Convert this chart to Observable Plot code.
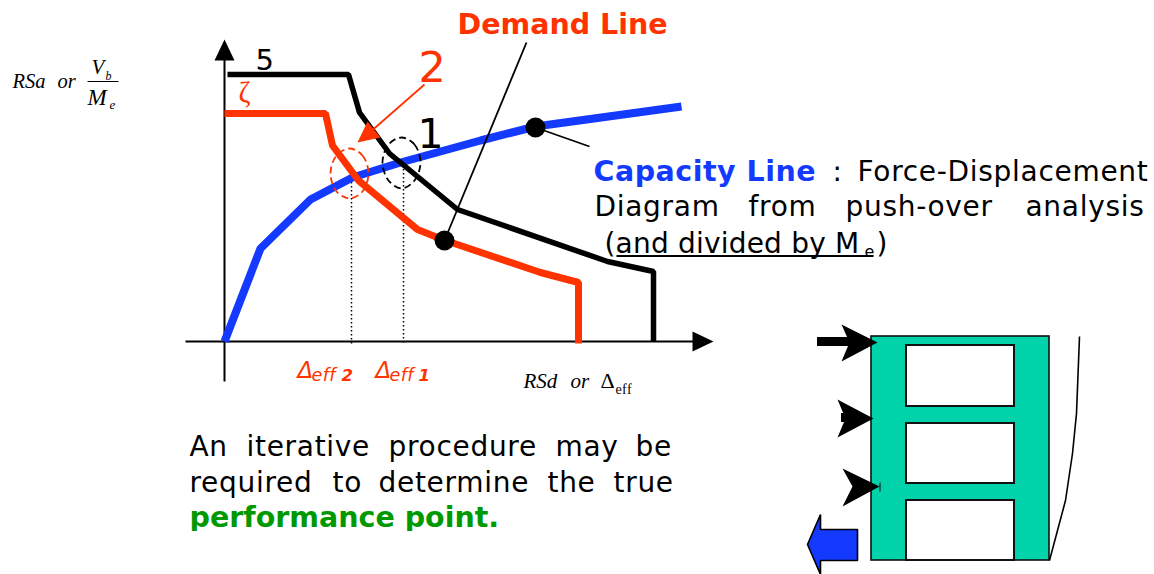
<!DOCTYPE html>
<html><head><meta charset="utf-8">
<style>html,body{margin:0;padding:0;background:#fff}svg{display:block}</style>
<script src="https://cdn.jsdelivr.net/npm/d3@7"></script>
<script src="https://cdn.jsdelivr.net/npm/@observablehq/plot@0.6"></script>
</head><body><script>
// Curves (displacement, acceleration), in reference pixel units
const capacityLine = [[224,341],[260,248],[310,199],[352,177],[400,162],[480,140],[535,126],[681,106]];
const demandLine5 = [[227,74],[348,74],[359,112],[389,153],[457,209],[607,261],[653,271],[653,341]];
const demandLine2 = [[224,113],[325,113],[332,145],[358,180],[417,229],[442,239],[540,272],[578,282],[578,343]];
const performanceDots = [[535,127],[444,240]];
const leaders = [[[526,42],[444,240]],[[535,127],[589,146]],[[424,84],[368,133]]];
const dottedDrops = [[351,170,346],[403,165,343]];
const ellipseRed = [[349,148],[362,155],[368,173],[362,191],[349,198],[336,191],[330,173],[336,155]];
const ellipseBlack = [[401,137],[414,144],[420,162],[414,180],[401,188],[388,180],[382,162],[388,144]];
const axesLines = [[[224,57],[224,381]],[[185,341],[696,341]]];
const triangles = [
  {c:"#000",p:[[224,39],[214,60],[234,60]]},
  {c:"#000",p:[[713,341],[692,331],[692,351]]},
  {c:"#ff3300",p:[[357,142],[367,121],[380,137]]},
  {c:"#000",p:[[877,342],[841,324],[849,342],[841,361]]},
  {c:"#000",p:[[873,418],[837,399],[845,418],[837,437]]},
  {c:"#000",p:[[879,486],[842,468],[852,486],[842,506]]}
];
const arrowShafts = [[817,337,850,346],[841,413,850,422]];
const forceTick = [[[879.5,482],[879.5,491]]];
const blueArrow = [[857,529],[820,529],[820,514],[807,544],[820,574],[820,560],[857,560]];
const frame = [871,336,1049,560];
const openings = [[906,345,1014,406],[906,423,1014,483],[906,500,1014,560]];
const deflected = [[1079,336],[1076,413],[1072,453],[1065,500],[1049,560]];
const fractionBar = [[[87,81],[118,81]]];
const underline = [[[616,255.5],[873,255.5]]];
const clipMask = [185,531,505,550];

const bodyWords = [
  ["Force-Displacement",857,180],[":",832,180],
  ["Diagram",594,215],["from",748,215],["push-over",845,215],["analysis",1025,215],
  ["(and divided by M",604,252],[")",876,252],
  ["An",189,455],["iterative",246,455],["procedure",388,455],["may",555,455],["be",635,455],
  ["required",189,491],["to",332,491],["determine",378,491],["the",547,491],["true",613,491]
];
const bigDigits = [["5",255,69,"#000",29],["1",417,147,"#000",41],["2",418,81,"#ff3300",43]];
const demandHead = [["Demand Line",457,33]];
const capacityHead = [["Capacity Line",593,180]];
const performanceHead = [["performance point.",189,526]];
const serifItalic = [["RSa",12,87,20.5],["or",57,87,20.5],["V",91,73,21],["b",105,79,12],["M",87,104,23],["e",109,108,13],["RSd",523,387,21],["or",570,387,21]];
const serifPlain = [["Δ",600,387,22],["eff",615,393,14]];
const deltaLabels = [["Δ",297,377,23],["eff",311,380,17.5],["Δ",375,377,23],["eff",389,380,17.5]];
const deltaIdx = [["2",341,380],["1",418,380]];
const subE = [["e",864,256]];
const zeta = [["ζ",238,101]];

const tracking = new Map([
  ...bodyWords.map(w=>[w[0],.7]),
  ["(and divided by M",.2],["Capacity Line",.5],["eff",.4]
]);

const X = d=>d[0], Y = d=>d[1];
const poly = (pts,o)=>Plot.line(pts,{x:X,y:Y,strokeLinecap:"butt",strokeLinejoin:"miter",...o});
const txt = (rows,o)=>Plot.text(rows,{x:d=>d[1],y:d=>d[2],text:d=>d[0],textAnchor:"start",lineAnchor:"bottom",...o});
const sans = "DejaVu Sans", serif = "Liberation Serif";
const bold = {fontFamily:sans,fontWeight:"bold",fontSize:28.5};

const chart = Plot.plot({
  width:1154,height:574,margin:0,
  x:{type:"linear",domain:[0,1154],range:[0,1154],axis:null},
  y:{type:"linear",domain:[0,574],range:[0,574],axis:null},
  marks:[
    Plot.rect([frame],{x1:d=>d[0],y1:d=>d[1],x2:d=>d[2],y2:d=>d[3],fill:"#00d2aa",stroke:"#111",strokeWidth:1.6}),
    Plot.rect(openings,{x1:d=>d[0],y1:d=>d[1],x2:d=>d[2],y2:d=>d[3],fill:"#fff",stroke:"#111",strokeWidth:2}),
    poly(deflected,{stroke:"#000",strokeWidth:1.6}),
    Plot.rect(arrowShafts,{x1:d=>d[0],y1:d=>d[1],x2:d=>d[2],y2:d=>d[3],fill:"#000"}),
    poly(forceTick[0],{stroke:"#000",strokeWidth:1}),
    poly(blueArrow,{curve:"linear-closed",fill:"#1439ff",stroke:"#000",strokeWidth:1.6}),
    ...axesLines.map(l=>poly(l,{stroke:"#000",strokeWidth:2})),
    ...dottedDrops.map(d=>Plot.ruleX([d],{x:d=>d[0],y1:d=>d[1],y2:d=>d[2],stroke:"#000",strokeWidth:1.5,strokeDasharray:"1.5,2.5"})),
    poly(capacityLine,{stroke:"#1439ff",strokeWidth:8}),
    poly(demandLine5,{stroke:"#000",strokeWidth:5.5}),
    poly(demandLine2,{stroke:"#ff3300",strokeWidth:7}),
    poly(ellipseRed,{curve:"catmull-rom-closed",stroke:"#ff3300",strokeWidth:1.8,strokeDasharray:"7,4"}),
    poly(ellipseBlack,{curve:"catmull-rom-closed",stroke:"#000",strokeWidth:1.8,strokeDasharray:"7,4"}),
    poly(leaders[0],{stroke:"#000",strokeWidth:1.8}),
    poly(leaders[1],{stroke:"#000",strokeWidth:1.8}),
    poly(leaders[2],{stroke:"#ff3300",strokeWidth:1.8}),
    ...triangles.map(t=>poly(t.p,{curve:"linear-closed",fill:t.c,stroke:"none"})),
    Plot.dot(performanceDots,{x:X,y:Y,r:10,fill:"#000"}),
    poly(fractionBar[0],{stroke:"#000",strokeWidth:1}),
    poly(underline[0],{stroke:"#000",strokeWidth:2}),
    txt(bodyWords,{fontFamily:sans,fontSize:28,fill:"#000"}),
    txt(subE,{fontFamily:sans,fontSize:16,fill:"#000"}),
    ...bigDigits.map(d=>txt([d],{fontFamily:sans,fontSize:d[4],fill:d[3]})),
    txt(demandHead,{...bold,fill:"#ff3300"}),
    txt(capacityHead,{...bold,fill:"#1439ff"}),
    txt(performanceHead,{...bold,fill:"#009900"}),
    Plot.rect([clipMask],{x1:d=>d[0],y1:d=>d[1],x2:d=>d[2],y2:d=>d[3],fill:"#fff"}),
    ...serifItalic.map(d=>txt([d],{fontFamily:serif,fontStyle:"italic",fontSize:d[3],fill:"#000"})),
    ...serifPlain.map(d=>txt([d],{fontFamily:serif,fontSize:d[3],fill:"#000"})),
    ...deltaLabels.map(d=>txt([d],{fontFamily:sans,fontStyle:"italic",fontSize:d[3],fill:"#ff3300"})),
    txt(deltaIdx,{fontFamily:sans,fontStyle:"italic",fontWeight:"bold",fontSize:16.5,fill:"#ff3300"}),
    txt(zeta,{fontFamily:serif,fontSize:29,fill:"#ff3300"})
  ]
});
d3.select(chart).selectAll("text").each(function(){
  const s = tracking.get(this.textContent);
  if (s) this.style.letterSpacing = s+"px";
});
document.body.appendChild(chart);
</script></body></html>
